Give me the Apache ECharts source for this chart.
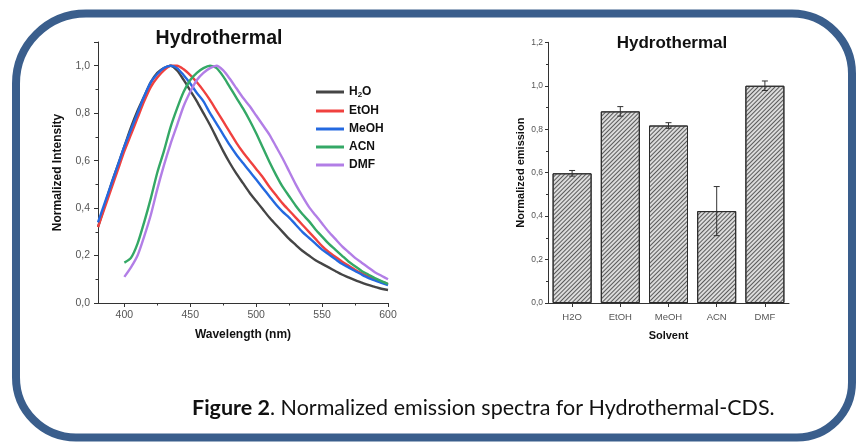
<!DOCTYPE html>
<html><head><meta charset="utf-8">
<script src="https://cdn.jsdelivr.net/npm/echarts@6/dist/echarts.min.js"></script>
<style>html,body{margin:0;padding:0;background:#fff}#c{width:856px;height:442px}</style>
</head><body><div id="c"></div>
<script>
// ---- Data: emission spectra (normalized) ----
const wavelengths = [380,385,390,395,400,405,410,415,420,425,430,435,440,445,450,455,460,465,470,475,480,485,490,495,500,505,510,515,520,525,530,535,540,545,550,555,560,565,570,575,580,585,590,595,600];
const h2o  = [0.32,0.41,0.50,0.58,0.66,0.74,0.81,0.87,0.93,0.97,0.99,1.00,0.98,0.94,0.895,0.85,0.80,0.75,0.695,0.64,0.59,0.545,0.505,0.465,0.43,0.395,0.36,0.33,0.30,0.27,0.245,0.22,0.20,0.18,0.165,0.15,0.135,0.12,0.108,0.096,0.086,0.076,0.068,0.06,0.055];
const etoh = [0.32,0.40,0.48,0.56,0.64,0.71,0.78,0.85,0.91,0.95,0.98,1.00,1.00,0.985,0.96,0.93,0.895,0.855,0.81,0.765,0.72,0.675,0.635,0.60,0.565,0.53,0.49,0.455,0.42,0.39,0.36,0.33,0.30,0.27,0.24,0.215,0.195,0.175,0.158,0.14,0.125,0.112,0.10,0.09,0.08];
const meoh = [0.34,0.42,0.50,0.58,0.66,0.73,0.80,0.87,0.93,0.965,0.99,1.00,0.99,0.96,0.925,0.885,0.85,0.80,0.755,0.71,0.665,0.625,0.59,0.555,0.52,0.485,0.45,0.415,0.385,0.36,0.33,0.30,0.275,0.25,0.225,0.205,0.185,0.165,0.15,0.135,0.12,0.106,0.095,0.085,0.075];
const acn  = [null,null,null,null,0.17,0.19,0.25,0.34,0.44,0.55,0.64,0.74,0.82,0.89,0.94,0.97,0.99,1.00,0.99,0.955,0.91,0.865,0.82,0.77,0.715,0.655,0.595,0.54,0.49,0.45,0.41,0.375,0.345,0.31,0.28,0.25,0.225,0.20,0.175,0.155,0.135,0.12,0.105,0.092,0.08];
const dmf  = [null,null,null,null,0.11,0.15,0.20,0.28,0.37,0.48,0.58,0.67,0.75,0.83,0.89,0.94,0.97,0.99,1.00,0.98,0.945,0.905,0.865,0.83,0.79,0.75,0.71,0.66,0.61,0.555,0.50,0.45,0.405,0.37,0.335,0.30,0.27,0.24,0.215,0.19,0.17,0.15,0.13,0.115,0.10];
const seriesNames = ['H2O','EtOH','MeOH','ACN','DMF'];
const xLabelValues = [400,450,500,550,600];
const xMinorValues = [425,475,525,575];

// ---- Data: bar chart ----
const solvents = ['H2O','EtOH','MeOH','ACN','DMF'];
const emission = [0.597,0.882,0.817,0.423,1.0];
const emissionErr = [0.013,0.022,0.013,0.113,0.022];

const lineColors = ['#454545','#f0413f','#2469e0','#34a866','#b27ee6'];
const spectra = [h2o, etoh, meoh, acn, dmf];
const comma = v => v.toFixed(1).replace('.', ',');
const SANS = 'Liberation Sans, Arial, sans-serif';

const chart = echarts.init(document.getElementById('c'), null, {renderer:'canvas'});

const lineSeries = spectra.map((arr, k) => ({
  name: seriesNames[k], type: 'line', xAxisIndex: 0, yAxisIndex: 0,
  data: wavelengths.map((w, i) => arr[i] == null ? null : [w, arr[i]]).filter(d => d),
  showSymbol: false, smooth: 0.25, lineStyle: {width: 2.4, color: lineColors[k]},
  itemStyle: {color: lineColors[k]}, z: 3 + k
}));

const option = {
  animation: false,
  backgroundColor: '#fff',
  title: [
    {text: 'Hydrothermal', left: 214, top: 24, textAlign: 'center',
     textStyle: {fontFamily: SANS, fontWeight: 'bold', fontSize: 19.5, color: '#111'}},
    {text: 'Hydrothermal', left: 667, top: 30, textAlign: 'center',
     textStyle: {fontFamily: SANS, fontWeight: 'bold', fontSize: 17, color: '#111'}}
  ],
  legend: {
    data: seriesNames, orient: 'vertical', left: 316, top: 86, itemGap: 6, padding: 0,
    itemWidth: 28, itemHeight: 3, icon: 'rect',
    formatter: n => n === 'H2O' ? '{a|H}{s|2}{a|O}' : '{a|' + n + '}',
    textStyle: {fontFamily: SANS, fontWeight: 'bold', fontSize: 12, color: '#111',
      rich: {a: {fontFamily: SANS, fontWeight: 'bold', fontSize: 12, color: '#111'},
             s: {fontFamily: SANS, fontWeight: 'bold', fontSize: 8, color: '#111', padding: [6,0,0,0]}}}
  },
  grid: [
    {left: 98, right: 468, top: 42, bottom: 139},
    {left: 548, right: 67, top: 42.3, bottom: 139}
  ],
  xAxis: [
    {type: 'value', gridIndex: 0, min: 380, max: 600,
     name: 'Wavelength (nm)', nameLocation: 'middle', nameGap: 26,
     nameTextStyle: {fontFamily: SANS, fontWeight: 'bold', fontSize: 12, color: '#111'},
     axisLine: {show: true, lineStyle: {color: '#333', width: 1}},
     axisTick: {show: true, customValues: xLabelValues, length: 4, lineStyle: {color: '#333'}},
     axisLabel: {customValues: xLabelValues, margin: 7, fontFamily: SANS, fontSize: 10.5, color: '#555'},
     splitLine: {show: false}},
    {type: 'value', gridIndex: 0, min: 380, max: 600, position: 'bottom',
     axisLine: {show: false},
     axisTick: {show: true, customValues: xMinorValues, length: 2.5, lineStyle: {color: '#333'}},
     axisLabel: {show: false}, splitLine: {show: false}},
    {type: 'category', gridIndex: 1, data: solvents, boundaryGap: true,
     name: 'Solvent', nameLocation: 'middle', nameGap: 27,
     nameTextStyle: {fontFamily: SANS, fontWeight: 'bold', fontSize: 11, color: '#111'},
     axisLine: {show: true, lineStyle: {color: '#333', width: 1}},
     axisTick: {show: true, alignWithLabel: true, length: 4, lineStyle: {color: '#333'}},
     axisLabel: {margin: 9, fontFamily: SANS, fontSize: 9.5, color: '#555'}}
  ],
  yAxis: [
    {type: 'value', gridIndex: 0, min: 0, max: 1.1, interval: 0.2,
     name: 'Normalized Intensity', nameLocation: 'middle', nameGap: 34,
     nameTextStyle: {fontFamily: SANS, fontWeight: 'bold', fontSize: 12, color: '#111'},
     axisLine: {show: true, lineStyle: {color: '#333', width: 1}},
     axisTick: {show: true, length: 4, lineStyle: {color: '#333'}},
     minorTick: {show: true, splitNumber: 2, length: 2.5, lineStyle: {color: '#333'}},
     axisLabel: {margin: 8, fontFamily: SANS, fontSize: 10.5, color: '#555',
       formatter: v => Math.abs(v * 5 - Math.round(v * 5)) < 1e-6 ? comma(v) : ''},
     splitLine: {show: false}, minorSplitLine: {show: false}},
    {type: 'value', gridIndex: 1, min: 0, max: 1.2, interval: 0.2,
     name: 'Normalized emission', nameLocation: 'middle', nameGap: 22,
     nameTextStyle: {fontFamily: SANS, fontWeight: 'bold', fontSize: 11, color: '#111'},
     axisLine: {show: true, lineStyle: {color: '#333', width: 1}},
     axisTick: {show: true, length: 3, lineStyle: {color: '#333'}},
     minorTick: {show: true, splitNumber: 2, length: 2, lineStyle: {color: '#333'}},
     axisLabel: {margin: 5, fontFamily: SANS, fontSize: 8.5, color: '#555', formatter: v => comma(v)},
     splitLine: {show: false}, minorSplitLine: {show: false}}
  ],
  series: lineSeries.concat([
    {name: 'emission', type: 'bar', xAxisIndex: 2, yAxisIndex: 1, data: emission, barWidth: 39,
     itemStyle: {color: '#dcdcdc', borderColor: '#2a2a2a', borderWidth: 1,
       decal: {symbol: 'rect', symbolSize: 1, dashArrayX: [1, 0], dashArrayY: [1, 2],
               rotation: -Math.PI / 4, color: '#5a5a5a'}}},
    {name: 'err', type: 'custom', xAxisIndex: 2, yAxisIndex: 1, z: 10,
     data: solvents.map((s, i) => [i, emission[i], emissionErr[i]]),
     renderItem: (params, api) => {
       const x = api.value(0), y = api.value(1), e = api.value(2);
       const hi = api.coord([x, y + e]), lo = api.coord([x, y - e]);
       const w = 3, st = {stroke: '#333', lineWidth: 1};
       return {type: 'group', children: [
         {type: 'line', shape: {x1: hi[0], y1: hi[1], x2: lo[0], y2: lo[1]}, style: st},
         {type: 'line', shape: {x1: hi[0] - w, y1: hi[1], x2: hi[0] + w, y2: hi[1]}, style: st},
         {type: 'line', shape: {x1: lo[0] - w, y1: lo[1], x2: lo[0] + w, y2: lo[1]}, style: st}
       ]};
     }}
  ]),
  graphic: [
    {type: 'rect', z: 100, silent: true,
     shape: {x: 16, y: 13.5, width: 836, height: 424, r: [70, 60, 55, 60]},
     style: {fill: 'none', stroke: '#3a5e8c', lineWidth: 8}},
    {type: 'text', left: 192, top: 397, z: 100,
     style: {text: '{b|Figure 2}. Normalized emission spectra for Hydrothermal-CDS.',
       font: '21.5px Lato, sans-serif', fill: '#111',
       rich: {b: {fontFamily: 'Lato, sans-serif', fontWeight: 'bold', fontSize: 21.5, fill: '#111'}}}}
  ]
};
chart.setOption(option);
</script>
</body></html>
